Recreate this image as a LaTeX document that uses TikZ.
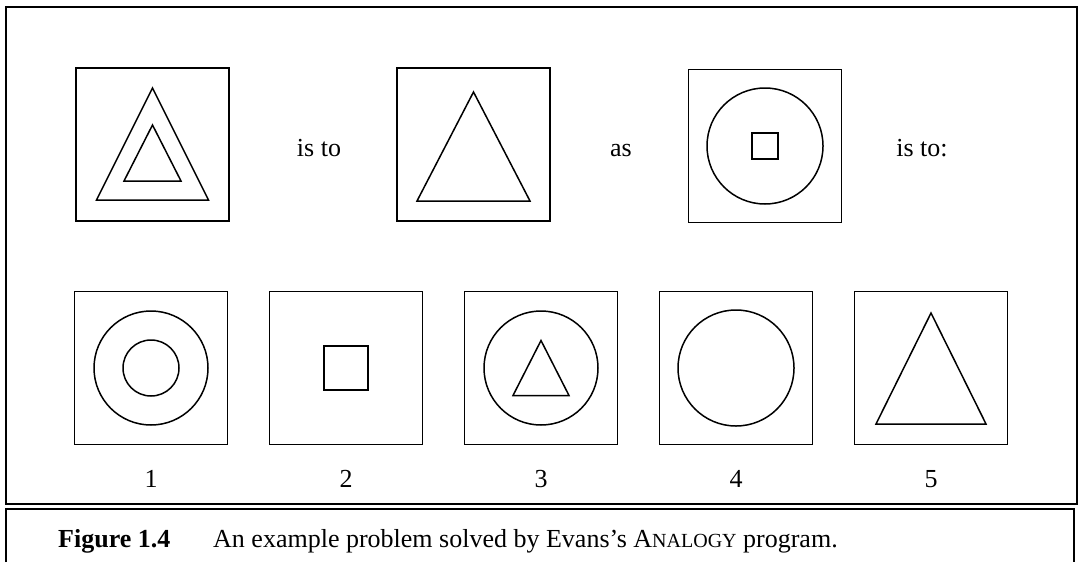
\documentclass[tikz,border=0pt]{standalone}
\usepackage{fontspec}
\setmainfont{Liberation Serif}
\usetikzlibrary{positioning}

\tikzset{
  panel/.style={draw, line width=1.5pt, minimum size=153pt, inner sep=0pt},
  figline/.style={line width=1.5pt},
  smallsq/.style={draw, line width=1.5pt, inner sep=0pt},
  word/.style={font=\fontsize{26}{30}\selectfont, anchor=base, inner sep=0pt},
}

\begin{document}
\begin{tikzpicture}[x=1pt, y=-1pt]
  \useasboundingbox (0,0) rectangle (1083,562);
  % frame and caption box
  \draw[line width=1.5pt] (6,7) rectangle (1077,504);
  \draw[line width=1.5pt] (6,562) -- (6,509) -- (1074,509) -- (1074,562);

  % top row: the problem
  \node[panel] (a1) at (152.5,144.5) {};
  \node[panel] (a2) at (473.5,144.5) {};
  \node[panel] (a3) at (765,146) {};
  \node[word] (isto) at (319,156) {is to};
  \node[word] (as) at (621,156) {as};
  \node[word] (isto2) at (922,156) {is to:};

  \draw[figline] (a1.center) ++(0,-56.5) -- ++(56,112) -- ++(-112,0) -- cycle;
  \draw[figline] (a1.center) ++(0,-19.5) -- ++(28.5,56) -- ++(-57,0) -- cycle;
  \draw[figline] (a2.center) ++(0,-52.5) -- ++(56.5,109) -- ++(-113,0) -- cycle;
  \draw[figline] (a3.center) circle[radius=58pt];
  \node[smallsq, minimum size=26pt] (a3sq) at (a3) {};

  % bottom row: the answers
  \node[panel] (b1) at (151,368) {};
  \node[panel, right=40.5pt of b1] (b2) {};
  \node[panel, right=40.5pt of b2] (b3) {};
  \node[panel, right=40.5pt of b3] (b4) {};
  \node[panel, right=40.5pt of b4] (b5) {};

  \draw[figline] (b1.center) circle[radius=57pt];
  \draw[figline] (b1.center) circle[radius=28pt];
  \node[smallsq, minimum size=44pt] (b2sq) at (b2) {};
  \draw[figline] (b3.center) circle[radius=57pt];
  \draw[figline] (b3.center) ++(0,-27.5) -- ++(28,55) -- ++(-56,0) -- cycle;
  \draw[figline] (b4.center) circle[radius=58pt];
  \draw[figline] (b5.center) ++(0,-55) -- ++(55,111) -- ++(-110,0) -- cycle;

  \foreach \i in {1,...,5}
    \node[word, below=25pt of b\i, anchor=north] (n\i) {\i};

  % caption
  \node[word, anchor=base west] (fignum) at (58,547) {\textbf{Figure 1.4}};
  \node[word, anchor=base west] (captext) at (213,547)
    {An example problem solved by Evans's A{\fontsize{20}{24}\selectfont NALOGY} program.};
\end{tikzpicture}
\end{document}
